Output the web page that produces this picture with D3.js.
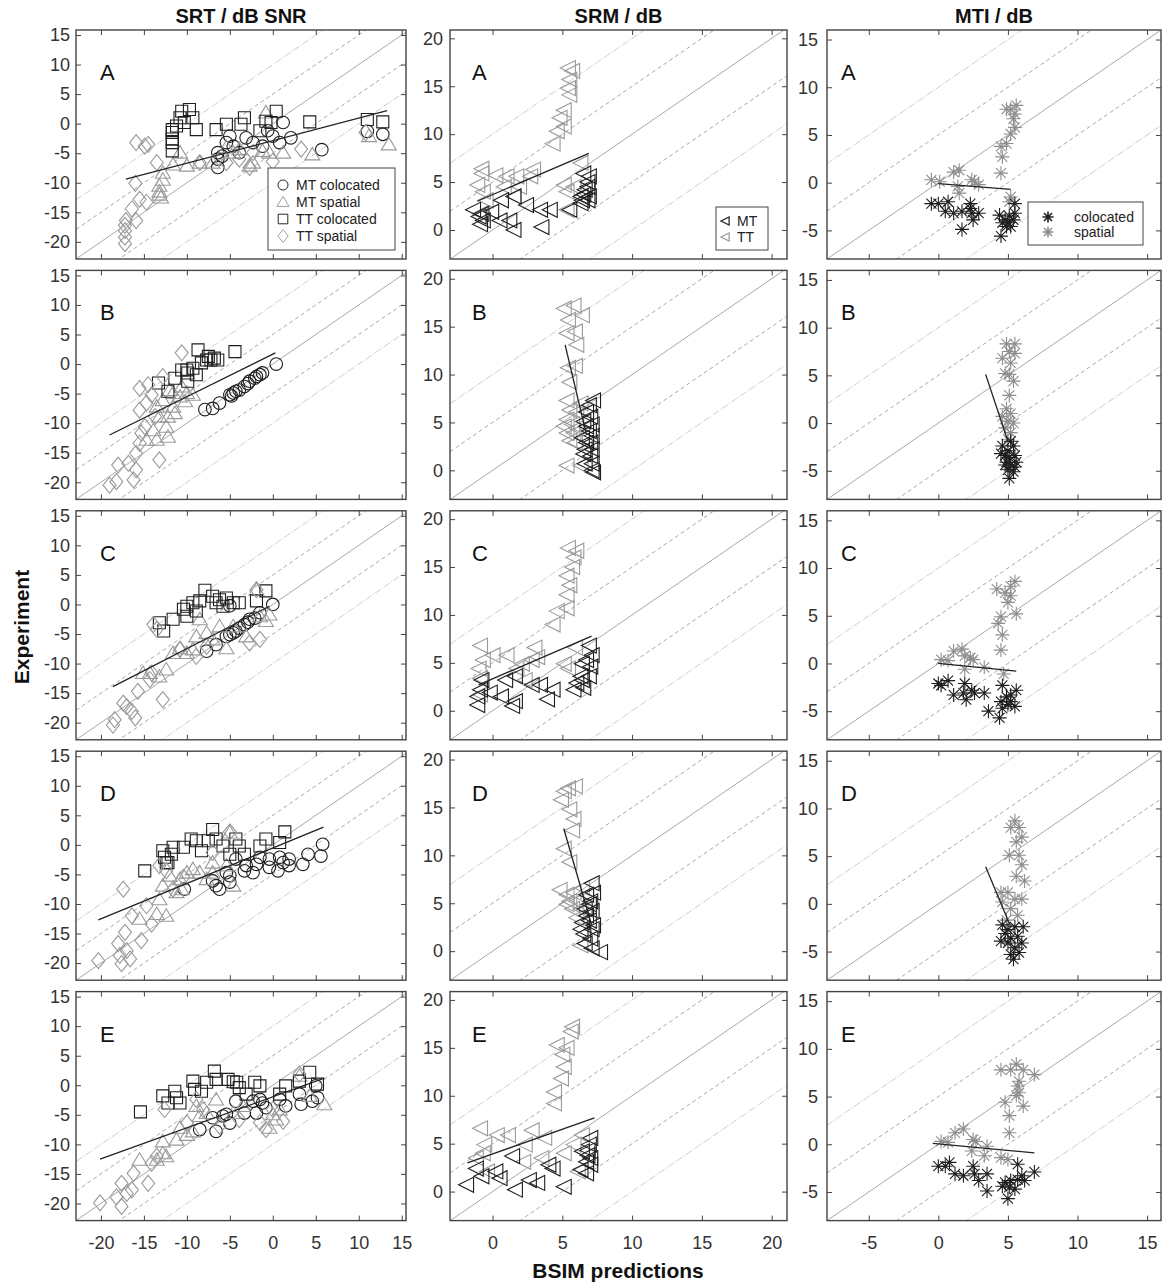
<!DOCTYPE html>
<html>
<head>
<meta charset="utf-8">
<title>BSIM predictions vs experiment</title>
<script src="https://cdn.jsdelivr.net/npm/d3@7"></script>
<style>
  body { margin: 0; background: #fff; }
  svg { font-family: "Liberation Sans", Arial, sans-serif; }
  .tick text { fill: #333; font-size: 18px; }
  .tick line { stroke: #444; }
  .domain { display: none; }
</style>
</head>
<body>
<div id="chart"></div>
<script>
// ---- SRT / dB SNR (column 1) : [prediction, experiment]
var SRT_A_MT_COL = [[-6.4,-4.9],[-6.4,-7.4],[-6.4,-6],[-5.9,-5.5],[-5,-2.1],[-4.6,-3.8],[-5.4,-3.2],[-3.9,-4.9],[-3.1,-2.4],[-2.3,-3.2],[-1.2,-3.8],[-0.6,-1.2],[0,-2.1],[0.8,-3.2],[1.2,0.2],[2.1,-2.4],[5.7,-4.4],[11,-1.3],[12.8,-1.8]];
var SRT_A_MT_SPA = [[-13.2,-10.5],[-13.2,-11.5],[-13.2,-12],[-13,-12.5],[-12.8,-9.5],[-12.8,-8.3],[-11.6,-6.9],[-10.8,-4.9],[-10,-7.1],[-8.5,-6.6],[-7,-6.6],[-4.6,-4.9],[-2.3,-6.6],[-1.2,-4.6],[-0.8,1.9],[1.2,-4.9],[4.6,-5.2],[11.2,-2.1],[13.5,-3.5],[-2.7,-7.1],[-3.9,-4.3],[-5.4,-4],[-0.4,-4.9]];
var SRT_A_TT_COL = [[-11.7,-2.6],[-11.7,-1.5],[-11.7,-1],[-11.7,-3.2],[-11.7,-4.6],[-10.8,1],[-10.6,2.1],[-9.7,2.4],[-9.3,1],[-8.9,-1],[-11.2,-0.4],[-10.3,0.2],[-6.6,-1],[-5.4,-0.1],[-3.3,1],[-3.7,-0.1],[-1.5,-1.2],[-0.8,0.4],[0.4,2.1],[4.3,0.3],[11,0.7],[12.8,0.3],[-0.2,0.2]];
var SRT_A_TT_SPA = [[-17.2,-18.1],[-17.2,-19.2],[-17.2,-20.3],[-17.2,-17.2],[-17.1,-16.4],[-16.4,-14.4],[-16,-10.1],[-15.5,-12.8],[-14.7,-13.3],[-15.9,-16.4],[-15.9,-3.2],[-14.9,-3.8],[-14.5,-3.5],[-13.5,-6.6],[-8.5,-6.6],[-3.9,-6],[-2.7,-7.4],[0,-6.4],[3.3,-4.3],[-2.3,-4.9],[-5.4,-6.6],[10.8,-1.5]];

var SRT_B_MT_COL = [[-7.9,-7.7],[-7,-7.5],[-6.2,-6.6],[-5,-5.2],[-4.6,-4.9],[-3.9,-4.4],[-3.3,-3.8],[-2.7,-2.9],[-2.1,-2.4],[-1.5,-1.8],[-1.2,-1.5],[0.4,0],[-4.3,-4.6],[-2.9,-3.3],[-4.8,-5.4],[-1.9,-2.1]];
var SRT_B_MT_SPA = [[-14.7,-12.8],[-13.5,-12.8],[-12.2,-12.3],[-12.4,-10.6],[-12.2,-8.9],[-13.2,-8.9],[-11.6,-7.2],[-10.8,-5.5],[-10,-4.9],[-9.3,-5.2],[-11.6,-4.9],[-12.8,-6.1],[-10.6,-3.8],[-13.9,-11.2],[-12,-4.4],[-11.4,-8.3],[-10.2,-6.3],[-13.5,-7.2]];
var SRT_B_TT_COL = [[-13.3,-3.2],[-12.2,-4.6],[-11.4,-2.4],[-10.6,-1],[-10,-1],[-9.9,-1.5],[-9.3,-0.7],[-8.7,2.4],[-8.3,0.2],[-7.7,0.7],[-7.2,0.7],[-6.8,1],[-6.4,0.7],[-4.4,2.1],[-9.9,-2.9],[-8.9,-1.8],[-7.5,1.3]];
var SRT_B_TT_SPA = [[-19,-20.5],[-18.2,-19.9],[-18,-17.1],[-16.8,-16.8],[-16.2,-19.6],[-15.9,-17.9],[-15.9,-15.1],[-15.5,-13.4],[-15.3,-11.7],[-15.5,-7.8],[-15.5,-4.1],[-14.5,-3.5],[-14.7,-6.6],[-14.1,-5.2],[-13.2,-16.2],[-10.6,1.9],[-12.8,-2.1],[-13.7,-8.9],[-14.9,-10.6]];

var SRT_C_MT_COL = [[-7.7,-7.9],[-6.6,-6.8],[-5.4,-5.4],[-4.6,-4.8],[-3.9,-4],[-3.3,-3.4],[-2.7,-2.5],[-2.1,-2.3],[-1.5,-1.4],[0,0],[-5,-0.2],[-4.3,-4.5],[-2.9,-3],[-5,-5.1]];
var SRT_C_MT_SPA = [[-15.1,-11.6],[-14.3,-11.6],[-13.2,-12.2],[-12.4,-11],[-11.6,-8.2],[-10.8,-7.4],[-10,-8.2],[-9.3,-7.6],[-8.9,-5.4],[-7.7,-4.8],[-7,-5.9],[-5.4,-7.4],[-4.6,-3.7],[-1.9,2.5],[-1.5,-2],[-0.8,-2.8],[-0.4,-1.7],[-8.5,-2.5],[-6.2,-3.7],[-3.1,-5.4]];
var SRT_C_TT_COL = [[-13.2,-3.1],[-12.7,-4.5],[-11.6,-2.5],[-10.4,-0.8],[-10,-0.3],[-9.3,0.3],[-8.5,0.6],[-7.9,2.4],[-7,1.4],[-6.2,0.8],[-5.4,1.1],[-4.6,0.3],[-3.9,0.3],[-1.9,0.6],[-0.8,2.3],[-10,-2],[-8.9,-1.1],[-5.8,-0.3],[-6.6,0.3]];
var SRT_C_TT_SPA = [[-18.6,-20.4],[-18.4,-19.5],[-17.4,-16.7],[-17,-17.3],[-16.4,-18.1],[-16,-19.2],[-15.7,-14.7],[-14.3,-12.7],[-12.8,-16.1],[-13.9,-3.4],[-13.5,-4.2],[-10.8,-7.6],[-8.9,-8.8],[-2.7,-6.5],[-1.5,-5.9],[-1.9,2.5],[-7.7,-7.1],[-14.1,-11.6]];

var SRT_D_MT_COL = [[-10.3,-7.5],[-7,-6.1],[-6.6,-6.9],[-6.2,-7.5],[-5,-6.3],[-5.4,-4.7],[-4.3,-2.4],[-3.3,-4.4],[-2.3,-4.7],[-1.9,-3.3],[-1.5,-2.1],[-0.4,-2.4],[-0.4,-3.8],[0.6,-4.4],[0.8,-2.1],[1.2,-3],[1.9,-2.4],[1.9,-3.5],[3.5,-3.3],[4.1,-1.6],[5.6,-1.9],[5.8,0.1],[-5,-5.2],[-3.1,-3.5]];
var SRT_D_MT_SPA = [[-15.5,-12.5],[-13.5,-11.7],[-12.4,-12],[-13.2,-9.2],[-12.8,-6.9],[-12,-5.2],[-11.2,-8],[-10.8,-5.8],[-10,-4.7],[-9.3,-4.1],[-8.5,-4.7],[-7.7,-5.8],[-7,-4.7],[-5.4,-3.5],[-5,2.1],[-7,-3],[-4.6,-6.9],[-10.6,-7.5]];
var SRT_D_TT_COL = [[-14.9,-4.4],[-12.8,-1],[-12.6,-2.1],[-12.4,-3],[-11.8,-1.6],[-11.6,-0.4],[-10.4,-0.4],[-9.5,1],[-8.9,0.7],[-8.3,-1],[-7.5,0.7],[-7,2.6],[-6.6,1],[-5.8,-0.2],[-5,-1.6],[-4.3,1],[-3.9,-0.2],[-3.3,-1.6],[-1.5,-0.2],[-0.8,1],[0.8,0.4],[1.4,2.2],[-12.2,-3]];
var SRT_D_TT_SPA = [[-20.3,-19.6],[-18,-16.7],[-17.8,-18.7],[-17.6,-20.1],[-17.2,-14.8],[-17,-17.9],[-16.6,-19.3],[-16.4,-12],[-15.3,-16.2],[-17.4,-7.5],[-14.1,-13.4],[-14.7,-10.3],[-13.2,-3.5],[-12.4,-4.4],[-11.6,-7.5],[-5,2.2],[-7,-1.3],[-10.4,-5.5]];

var SRT_E_MT_COL = [[-8.5,-7.5],[-7,-5.5],[-6.6,-7.8],[-5.8,-5.2],[-5,-6.4],[-4.3,-2.7],[-3.3,-4.7],[-1.9,-4.7],[-1.5,-2.4],[-1.2,-3],[-0.8,-3.8],[0.8,-2.4],[1.5,-3.5],[3.1,-1.5],[3.3,-3.2],[4.6,-2.7],[5.2,-2.1],[5,-0.1],[-5.4,-4.9],[-2.3,-2.7]];
var SRT_E_MT_SPA = [[-15.5,-12.6],[-13.5,-12.6],[-12.8,-11.5],[-12.4,-12],[-12.8,-9.5],[-11.2,-9.2],[-10.8,-7.2],[-10,-8.4],[-9.3,-7.8],[-8.5,-5.2],[-7.7,-4.7],[-6.6,-2.4],[-4.6,-4.7],[-3.5,-3.5],[0,-4.9],[0.4,-5.8],[0.8,-4.1],[3.1,1.6],[4.3,-1.8],[6,-3.2],[-0.4,-7.2],[-8.9,-3.5]];
var SRT_E_TT_COL = [[-15.4,-4.5],[-12.8,-1.8],[-12.2,-3],[-11.4,-1],[-11.2,-2.1],[-10.8,-3],[-9.3,0.7],[-9.1,-0.7],[-8.3,-1],[-7.7,0.5],[-6.8,2.4],[-6.6,1],[-5.2,1],[-4.2,0.5],[-3.9,-0.4],[-3.1,-1.5],[-2.1,0.5],[-1.5,-0.1],[0.8,-1.5],[1.5,-0.1],[3.1,0.7],[4.3,2.2],[5.2,0.2],[-4.6,0.6]];
var SRT_E_TT_SPA = [[-20.1,-19.9],[-18.2,-18.9],[-17.6,-20.5],[-17.6,-16.6],[-17,-18.3],[-16.4,-17.7],[-16.2,-14.9],[-14.5,-16.6],[-14.1,-13.2],[-13.5,-12],[-12.6,-4.1],[-8.9,-2.4],[-8.1,-4.1],[-6.2,-6.9],[-1.5,-6.3],[-0.8,-7.5],[1.2,-6.1],[3.1,1.9],[0,-4.1],[-3.9,-5.8],[-10,-6.4]];

// ---- SRM / dB (column 2)
var SRM_A_MT = [[-0.9,0.6],[-1,1.4],[-0.8,1.7],[-0.1,1.9],[0.5,1],[1.2,1],[1.5,0],[0.6,3.1],[1.5,3.5],[2.4,2.6],[3.4,2.1],[4.1,2.1],[3.5,0.3],[5.5,2.1],[6.3,2.8],[6.5,3.7],[6.6,4.2],[6.8,4.5],[6.8,5],[6.8,3.1],[6.9,3.5],[6.9,5.6],[6.4,3.1],[6.3,3.5],[-1.4,2.1],[-0.7,1],[6.5,5.9]];
var SRM_A_TT = [[-0.8,6.4],[-1.1,4.7],[-0.7,4],[-0.5,3.1],[0.2,5.7],[0.8,4.5],[1,5.6],[1.7,5.6],[1.9,4.5],[2.7,5.6],[2.9,6.3],[1.5,3.5],[4.3,9],[4.6,10.3],[5.1,10.8],[4.8,11.7],[5.1,12.5],[5.4,14.8],[5.5,14.1],[5.4,16.9],[5.7,16.6],[5.5,15.7],[5.1,4.7],[5.3,4],[5.8,4.5],[6.3,7],[5.3,2.1],[-0.8,5.9],[-0.9,1.7]];
var SRM_B_MT = [[7.1,0],[7.1,0.7],[7,1.5],[7.1,2.2],[7,2.9],[7.1,3.6],[6.9,4.1],[7.1,4.8],[7,5.6],[6.7,6.1],[7.2,7.3],[6.6,0.7],[6.5,1.7],[6.7,2.9],[6.7,4.6],[6.4,3.4],[6.6,2.2],[7.2,-0.2],[6.5,5.1],[6.9,6.8]];
var SRM_B_TT = [[5.1,16.9],[5.8,17.2],[5.4,15.7],[6.4,16.2],[5.3,14.3],[5.9,14.5],[6,13.1],[5.4,10.7],[5.9,10.9],[5.5,9.2],[5.3,7.3],[5.5,6.3],[5.3,5.3],[5.7,4.8],[5.3,3.9],[5.8,3.9],[5.5,3.1],[5.3,0.5],[6.3,7],[6,6.1],[5.1,4.6],[6.3,0.5],[6,4.4],[5.9,2.9]];
var SRM_C_MT = [[-1.1,0.6],[-1.1,1.5],[-0.9,2.2],[-0.8,3.2],[-0.2,1.9],[0.6,1.5],[1.4,0.5],[1.6,1],[0.9,3.2],[1.6,3.6],[2.8,2.7],[3.4,2.7],[3.9,1.2],[4.3,2.2],[5.8,2.2],[6.4,3.2],[6.5,2.4],[6.9,3.6],[7,4.6],[6.7,5.3],[7.1,5.8],[6.4,4.9],[6.9,6.8],[6.3,3.6],[6,2.9]];
var SRM_C_TT = [[-0.9,6.8],[-1,4.4],[-0.9,3.4],[-0.7,5.3],[0,5.8],[1,5.8],[1.7,4.4],[2.1,4.9],[2.8,5.3],[3,6.6],[3.2,5.6],[4.3,9],[4.6,10.4],[5.3,10.7],[5.3,12.1],[5.5,13.1],[5.3,14.1],[5.7,15],[5.8,16],[5.4,17],[6,16.7],[5.1,4.9],[5.4,4.4],[5.9,6.6],[-0.9,1.7],[2.3,3.2]];
var SRM_D_MT = [[7.7,-0.1],[7.1,0.3],[7,1.3],[7.1,2.3],[6.9,3.2],[7.1,4.2],[7,5.2],[6.7,5.9],[7.1,7.1],[6.5,1.8],[6.4,3],[6.6,4.4],[6.7,3.7],[7.2,2.7],[6.3,2.3],[6.6,0.8],[7.2,6.1],[6.9,4.9]];
var SRM_D_TT = [[5.1,16.7],[5.4,17],[5.9,17.2],[4.9,15.8],[5.5,14.8],[5.8,13.8],[5.7,12.6],[5.1,10.7],[5.5,9.3],[4.8,6.4],[5.3,5.9],[5.5,5.2],[5.8,6.1],[6,5.2],[6.3,4.4],[5.7,4.4],[5.3,4.9],[6.3,0.6],[6,3.5],[6.4,6.6]];
var SRM_E_MT = [[-1.9,0.7],[-1.2,2.4],[-0.8,1.6],[0.2,2.1],[0.5,1.4],[1.6,0.2],[1.4,3.7],[2.6,1.2],[3.2,0.9],[4,2.8],[4.3,2.4],[5.1,0.5],[6.3,2.3],[6.7,3.1],[6.8,3.8],[6.9,4.9],[7,5.6],[6.8,4.3],[7,2.8],[6.7,1.9],[7,3.5],[6.4,4.2]];
var SRM_E_TT = [[-0.9,6.6],[-1.2,3.5],[-0.6,4.9],[-0.7,4],[0.3,5.9],[1.1,5.9],[2.2,3.1],[2.3,4.9],[2.8,6.4],[3.7,5.6],[3.5,3.5],[4.4,9.2],[4.4,10.4],[4.9,11.8],[5.1,13],[5,14.3],[4.6,15.3],[5.3,15],[5.6,16.7],[5.7,17.2],[5.1,4],[5.8,4.9],[6.4,5.9],[6.1,2.1],[-0.4,2.1]];

// ---- MTI / dB (column 3)
var MTI_A_COL = [[-0.5,-2.2],[0,-2.2],[0.7,-2],[0.5,-3],[1.1,-3.2],[1.7,-3],[2.3,-2.2],[2.3,-2.7],[2.4,-3.2],[2.9,-3.2],[2.5,-3.9],[1.7,-4.9],[4.4,-3.4],[4.5,-5.6],[4.8,-3.9],[5,-4.2],[5.1,-3.5],[5.2,-4.6],[5.4,-3.9],[5.5,-3.2],[5.5,-2.2],[4.9,-4.6],[4.6,-4.2]];
var MTI_A_SPA = [[-0.5,0.3],[0.1,0.1],[1.1,1.1],[1.5,1.3],[1.4,-0.4],[2.4,0.3],[2.6,0.1],[2.9,-0.2],[1.5,-1.1],[4.5,1],[4.6,2.7],[4.5,3.8],[4.9,4.1],[5.2,5.1],[5.5,5.8],[5.4,6.7],[5.5,7.2],[5.2,7.7],[5.6,8.1],[4.9,7.7],[5.2,-1.5],[5.1,-2]];
var MTI_B_COL = [[4.6,-2.4],[5,-2.9],[5.4,-2.4],[4.8,-3.4],[5.1,-3.6],[5.5,-3.4],[4.9,-4.1],[5.2,-4.4],[5.6,-4.1],[5,-4.9],[5.4,-5.1],[5.1,-5.8],[4.8,-4.4],[5.5,-4.6],[4.5,-3.2],[5.2,-1.9]];
var MTI_B_SPA = [[4.9,8.3],[5.5,8.3],[5.1,7.5],[4.6,6.8],[5.2,6.3],[4.8,5.2],[5.1,5.1],[5.4,4.4],[5.1,2.9],[4.9,1.5],[5.2,1],[5,0.2],[5.4,0],[4.8,-0.5],[5.2,-1],[5,-1.7],[4.6,0.7],[5.5,7.3]];
var MTI_C_COL = [[0,-2.1],[0.2,-2.3],[0.7,-1.8],[1.1,-3.3],[1.8,-3.1],[1.9,-2.1],[2,-3.8],[2.4,-2.8],[2.6,-3.1],[3.3,-3.1],[3.6,-5],[4.4,-5.7],[4.5,-4],[4.6,-2.3],[4.9,-3.5],[5,-4.3],[5.2,-3.3],[5.5,-4.5],[5.6,-2.8],[4.6,-4.7],[5.2,-4]];
var MTI_C_SPA = [[0.2,0.4],[0.7,0.3],[1.1,1.3],[1.7,1.5],[1.9,0.8],[2.3,0.6],[2.5,0.4],[1.9,-0.6],[3.3,-0.4],[4.7,-1.1],[4.3,4.2],[4.5,4.9],[4.5,1.4],[4.6,3],[4.2,7.8],[4.8,7.4],[5.2,8.1],[5.5,8.6],[5,6.4],[5.6,5.2],[5.2,7.1]];
var MTI_D_COL = [[4.6,-2.2],[5,-2.7],[5.5,-2.4],[6.1,-2.4],[4.8,-3.1],[5.2,-3.6],[5.7,-3.4],[5,-4.1],[5.5,-4.6],[6,-4.1],[5.2,-5.3],[5.4,-5.8],[4.5,-3.9],[5.8,-5.1]];
var MTI_D_SPA = [[5.5,8.7],[5.2,8],[5.8,8],[6,7],[5.6,6.5],[5.1,5.1],[5.8,5.1],[6,4.1],[5.6,2.9],[4.5,1.2],[5,1.2],[5.5,0.5],[6,0.5],[5.2,-0.5],[5.7,-1.2],[4.9,-1.7],[4.6,0.2],[6.2,2.4]];
var MTI_E_COL = [[0,-2.3],[0.5,-2.3],[0.8,-1.9],[1.2,-3.1],[1.8,-3.3],[2.5,-2.3],[2.6,-3.1],[2.9,-3.8],[3.5,-3.1],[3.5,-4.9],[5,-5.7],[4.8,-4],[5.2,-3.8],[5.7,-3.7],[6,-3.3],[5.5,-4.7],[5.1,-4.5],[5.7,-2.1],[6.9,-2.9],[6.2,-3.8],[4.6,-4.4]];
var MTI_E_SPA = [[0.2,0.3],[0.7,0.2],[1.2,1.2],[1.8,1.6],[2.5,0.5],[2.7,0.3],[2.4,-0.7],[3.5,-0.2],[3.3,-1.2],[5,-1.6],[4.5,-1.4],[4.8,4.4],[5.1,3],[5.1,1.2],[4.5,7.8],[5.6,8.4],[5.2,7.8],[6.1,7.8],[6.9,7.3],[5.8,6.6],[5.8,5.4],[6.1,4],[5.6,5.1],[5.7,6.1]];

// linear fits, one per row: [start, end]
var SRT_FIT = [[[-17.1,-9.4],[13.3,2.2]],[[-19,-12],[0.3,1.9]],[[-18.6,-13.9],[-0.4,-0.3]],[[-20.3,-12.7],[5.9,3]],[[-20.1,-12.5],[6,1.2]]];
var SRM_FIT = [[[-1.1,3],[6.9,8]],[[5.2,13.1],[6.7,3.9]],[[-1,2.7],[7.1,7.8]],[[5.1,12.8],[7.1,2.7]],[[-1.8,3],[7.3,7.7]]];
var MTI_FIT = [[[0,-0.1],[5.2,-0.7]],[[3.4,5.1],[5,-1.9]],[[0,0],[5.6,-0.8]],[[3.4,3.9],[5.2,-2.4]],[[-0.4,0.1],[6.9,-0.9]]];

var rowLetters = ['A','B','C','D','E'];
var diagOffsets = [10, 5, 0, -5, -10];
var srtTicks = [-20,-15,-10,-5,0,5,10,15];
var srmTicks = [0,5,10,15,20];
var mtiTicks = [-5,0,5,10,15];

// ---- marker shapes
var BLACK = '#1e1e1e', GRAY = '#9a9a9a';
var shapes = {
  circle: 'M6.3,0A6.3,6.3 0 1,1 -6.3,0A6.3,6.3 0 1,1 6.3,0Z',
  triUp: 'M0,-7L7.5,5.5L-7.5,5.5Z',
  square: 'M-6,-6H6V6H-6Z',
  diamond: 'M0,-8L6.5,0L0,8L-6.5,0Z',
  triLeft: 'M-7.5,0L7.5,-7.5L7.5,7.5Z',
  star: 'M-7,0H7M0,-7V7M-5,-5L5,5M-5,5L5,-5'
};

var cols = [
  { title: 'SRT / dB SNR', left: 76, right: 406, xDom: [-22.9, 15.5], yDom: [-22.9, 15.85], ticks: srtTicks, pad: 6, letterDx: 24,
    fits: SRT_FIT,
    series: function (r) {
      var s = [[SRT_A_MT_COL,SRT_A_MT_SPA,SRT_A_TT_COL,SRT_A_TT_SPA],[SRT_B_MT_COL,SRT_B_MT_SPA,SRT_B_TT_COL,SRT_B_TT_SPA],
               [SRT_C_MT_COL,SRT_C_MT_SPA,SRT_C_TT_COL,SRT_C_TT_SPA],[SRT_D_MT_COL,SRT_D_MT_SPA,SRT_D_TT_COL,SRT_D_TT_SPA],
               [SRT_E_MT_COL,SRT_E_MT_SPA,SRT_E_TT_COL,SRT_E_TT_SPA]][r];
      return [{ d: s[0], shape: 'circle', color: BLACK }, { d: s[1], shape: 'triUp', color: GRAY },
              { d: s[2], shape: 'square', color: BLACK }, { d: s[3], shape: 'diamond', color: GRAY }];
    } },
  { title: 'SRM / dB', left: 450, right: 787, xDom: [-3.05, 21.1], yDom: [-3.03, 20.87], ticks: srmTicks, pad: 7, letterDx: 22,
    fits: SRM_FIT,
    series: function (r) {
      var s = [[SRM_A_MT,SRM_A_TT],[SRM_B_MT,SRM_B_TT],[SRM_C_MT,SRM_C_TT],[SRM_D_MT,SRM_D_TT],[SRM_E_MT,SRM_E_TT]][r];
      return [{ d: s[1], shape: 'triLeft', color: GRAY }, { d: s[0], shape: 'triLeft', color: BLACK }];
    } },
  { title: 'MTI / dB', left: 827, right: 1161, xDom: [-8, 16], yDom: [-8, 16], ticks: mtiTicks, pad: 9, letterDx: 14,
    fits: MTI_FIT,
    series: function (r) {
      var s = [[MTI_A_COL,MTI_A_SPA],[MTI_B_COL,MTI_B_SPA],[MTI_C_COL,MTI_C_SPA],[MTI_D_COL,MTI_D_SPA],[MTI_E_COL,MTI_E_SPA]][r];
      return [{ d: s[1], shape: 'star', color: '#8e8e8e' }, { d: s[0], shape: 'star', color: BLACK }];
    } }
];

var W = 1165, H = 1286, top0 = 30, rowStep = 240.4, ph = 229;
var svg = d3.select('#chart').append('svg').attr('width', W).attr('height', H);
var fmt = function (d) { return String(d); };

cols.forEach(function (c, ci) {
  svg.append('text').attr('x', (c.left + c.right) / 2).attr('y', 23)
    .attr('text-anchor', 'middle').style('font-size', '20px').style('font-weight', 'bold').attr('fill', '#111')
    .text(c.title);

  rowLetters.forEach(function (letter, ri) {
    var t = top0 + ri * rowStep, b = t + ph;
    var x = d3.scaleLinear().domain(c.xDom).range([c.left, c.right]);
    var y = d3.scaleLinear().domain(c.yDom).range([b, t]);
    var g = svg.append('g');
    var clipId = 'clip' + ci + ri;
    g.append('clipPath').attr('id', clipId).append('rect')
      .attr('x', c.left).attr('y', t).attr('width', c.right - c.left).attr('height', ph);

    // reference diagonals y = x + k
    var lines = g.append('g').attr('clip-path', 'url(#' + clipId + ')');
    diagOffsets.forEach(function (k) {
      var x0 = c.xDom[0], x1 = c.xDom[1];
      var ln = lines.append('line')
        .attr('x1', x(x0)).attr('y1', y(x0 + k)).attr('x2', x(x1)).attr('y2', y(x1 + k))
        .attr('fill', 'none');
      if (k === 0) ln.attr('stroke', '#a8a8a8').attr('stroke-width', 1);
      else if (Math.abs(k) === 5) ln.attr('stroke', '#a8a8a8').attr('stroke-width', 1).attr('stroke-dasharray', '4,3');
      else ln.attr('stroke', '#cdcdcd').attr('stroke-width', 1).attr('stroke-dasharray', '7,1.5,1,1.5');
    });

    // markers
    c.series(ri).forEach(function (s) {
      g.append('g').selectAll('path').data(s.d).enter().append('path')
        .attr('d', shapes[s.shape])
        .attr('transform', function (d) { return 'translate(' + x(d[0]) + ',' + y(d[1]) + ')'; })
        .attr('fill', 'none').attr('stroke', s.color).attr('stroke-width', 1.1);
    });

    // fit line
    var f = c.fits[ri];
    g.append('line').attr('x1', x(f[0][0])).attr('y1', y(f[0][1])).attr('x2', x(f[1][0])).attr('y2', y(f[1][1]))
      .attr('stroke', '#222').attr('stroke-width', 1.3);

    // axes with inward ticks
    var last = ri === rowLetters.length - 1;
    g.append('g').attr('transform', 'translate(0,' + b + ')')
      .call(d3.axisBottom(x).tickValues(c.ticks).tickSize(-5).tickPadding(16).tickFormat(last ? fmt : ''));
    g.append('g').attr('transform', 'translate(0,' + t + ')')
      .call(d3.axisTop(x).tickValues(c.ticks).tickSize(-5).tickFormat(''));
    g.append('g').attr('transform', 'translate(' + c.left + ',0)')
      .call(d3.axisLeft(y).tickValues(c.ticks).tickSize(-5).tickPadding(c.pad).tickFormat(fmt));
    g.append('g').attr('transform', 'translate(' + c.right + ',0)')
      .call(d3.axisRight(y).tickValues(c.ticks).tickSize(-5).tickFormat(''));
    g.selectAll('.tick text').attr('font-family', null);

    g.append('rect').attr('x', c.left).attr('y', t).attr('width', c.right - c.left).attr('height', ph)
      .attr('fill', 'none').attr('stroke', '#444').attr('stroke-width', 1.4);

    g.append('text').attr('x', c.left + c.letterDx).attr('y', t + 50)
      .style('font-size', '22px').attr('fill', '#111').text(letter);
  });
});

// legends (row A only)
function legend(items, box, mx, tx, y0, dy) {
  var lg = svg.append('g');
  lg.append('rect').attr('x', box[0]).attr('y', box[1]).attr('width', box[2]).attr('height', box[3])
    .attr('fill', '#fff').attr('stroke', '#444').attr('stroke-width', 1);
  items.forEach(function (it, i) {
    var yy = y0 + i * dy;
    lg.append('path').attr('d', it.shape).attr('transform', 'translate(' + mx + ',' + yy + ') scale(' + (it.s || 0.8) + ')')
      .attr('fill', 'none').attr('stroke', it.color).attr('stroke-width', it.w || 1.2);
    lg.append('text').attr('x', tx).attr('y', yy + 5).style('font-size', '14px').attr('fill', '#222').text(it.label);
  });
}
legend([{ shape: shapes.circle, color: BLACK, label: 'MT colocated' }, { shape: shapes.triUp, color: GRAY, label: 'MT spatial' },
        { shape: shapes.square, color: BLACK, label: 'TT colocated' }, { shape: shapes.diamond, color: GRAY, label: 'TT spatial' }],
       [268, 168, 127, 82], 283, 296, 185, 17);
legend([{ shape: shapes.triLeft, color: BLACK, label: 'MT', w: 2.2, s: 0.55 }, { shape: shapes.triLeft, color: GRAY, label: 'TT', w: 2.2, s: 0.55 }],
       [716, 207, 52, 43], 725, 737, 221, 16);
legend([{ shape: shapes.star, color: BLACK, label: 'colocated', w: 2 }, { shape: shapes.star, color: '#8e8e8e', label: 'spatial', w: 2 }],
       [1028, 202, 115, 43], 1048, 1074, 217, 15);

// shared labels
svg.append('text').attr('transform', 'translate(29,627) rotate(-90)').attr('text-anchor', 'middle')
  .style('font-size', '21px').style('font-weight', 'bold').attr('fill', '#111').text('Experiment');
svg.append('text').attr('x', 618).attr('y', 1278).attr('text-anchor', 'middle')
  .style('font-size', '21px').style('font-weight', 'bold').attr('fill', '#111').text('BSIM predictions');
</script>
</body>
</html>
